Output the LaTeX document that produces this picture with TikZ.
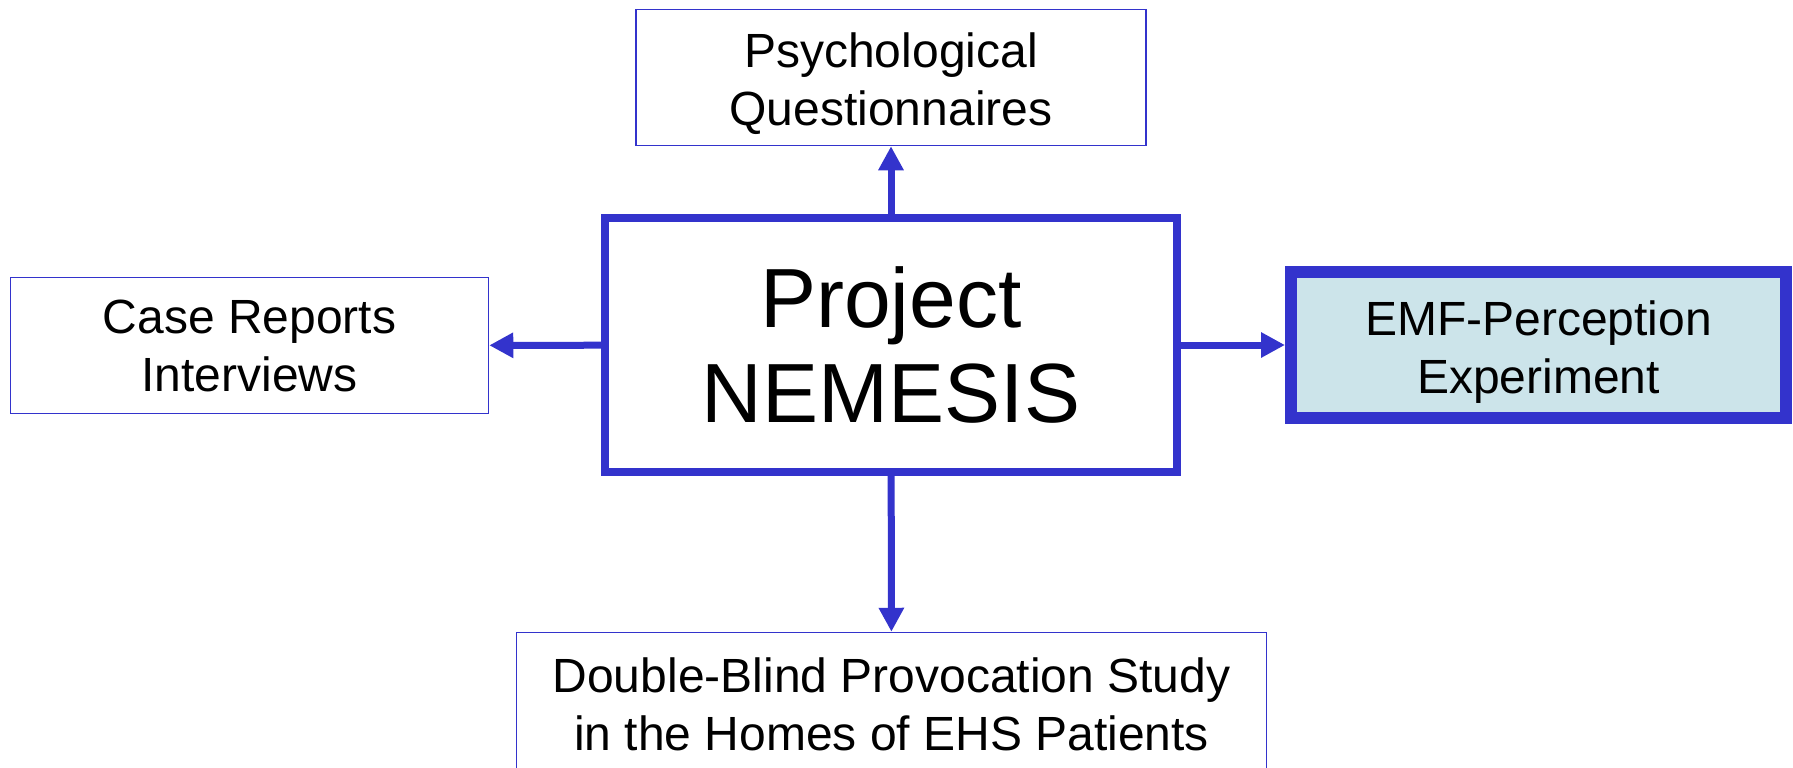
\documentclass[tikz,border=0pt]{standalone}
\usepackage{fontspec}
\setmainfont{Liberation Sans}
\usetikzlibrary{arrows.meta}
\definecolor{nemblue}{RGB}{51,51,204}
\definecolor{emffill}{RGB}{204,228,234}
\newcommand{\topstrut}{\rule{0pt}{24pt}}

\begin{document}
\begin{tikzpicture}[x=0.5pt,y=0.5pt,yscale=-1,
  box/.style={draw=nemblue, line width=0.75pt, align=center, inner sep=0pt, font=\fontsize{24}{29}\selectfont},
  mainbox/.style={box, line width=3.75pt, font=\fontsize{42}{47.5}\selectfont},
  emfbox/.style={box, line width=6pt, fill=emffill},
  link/.style={draw=nemblue, line width=3.5pt, -{Triangle[length=12pt,width=12pt]}}]
\useasboundingbox (0,0) rectangle (1793,767);
\clip (0,0) rectangle (1793,767);

% Central box
\node (nemesis) at (891,345) [mainbox, minimum width=286pt, minimum height=127pt] {Project\\NEMESIS};
% Text Node
\node (quest) at (891,77.5) [box, minimum width=255pt, minimum height=68pt] {\topstrut Psychological\\Questionnaires};
% Text Node
\node (cases) at (249.5,345.5) [box, minimum width=239pt, minimum height=68pt] {Case Reports\\Interviews};
% Text Node
\node (emf) at (1538.5,345) [emfbox, minimum width=247.5pt, minimum height=73pt] {\topstrut EMF-Perception\\Experiment};
% Text Node (cut by the lower edge)
\node (homes) at (891.5,704.5) [box, minimum width=375pt, minimum height=72pt] {Double-Blind Provocation Study\\in the Homes of EHS Patients};

% Connection
\draw [link] (nemesis) -- (quest);
\draw [link] (nemesis) -- (cases);
\draw [link] (nemesis) -- (emf);
\draw [link] (nemesis) -- (homes);
\end{tikzpicture}
\end{document}
